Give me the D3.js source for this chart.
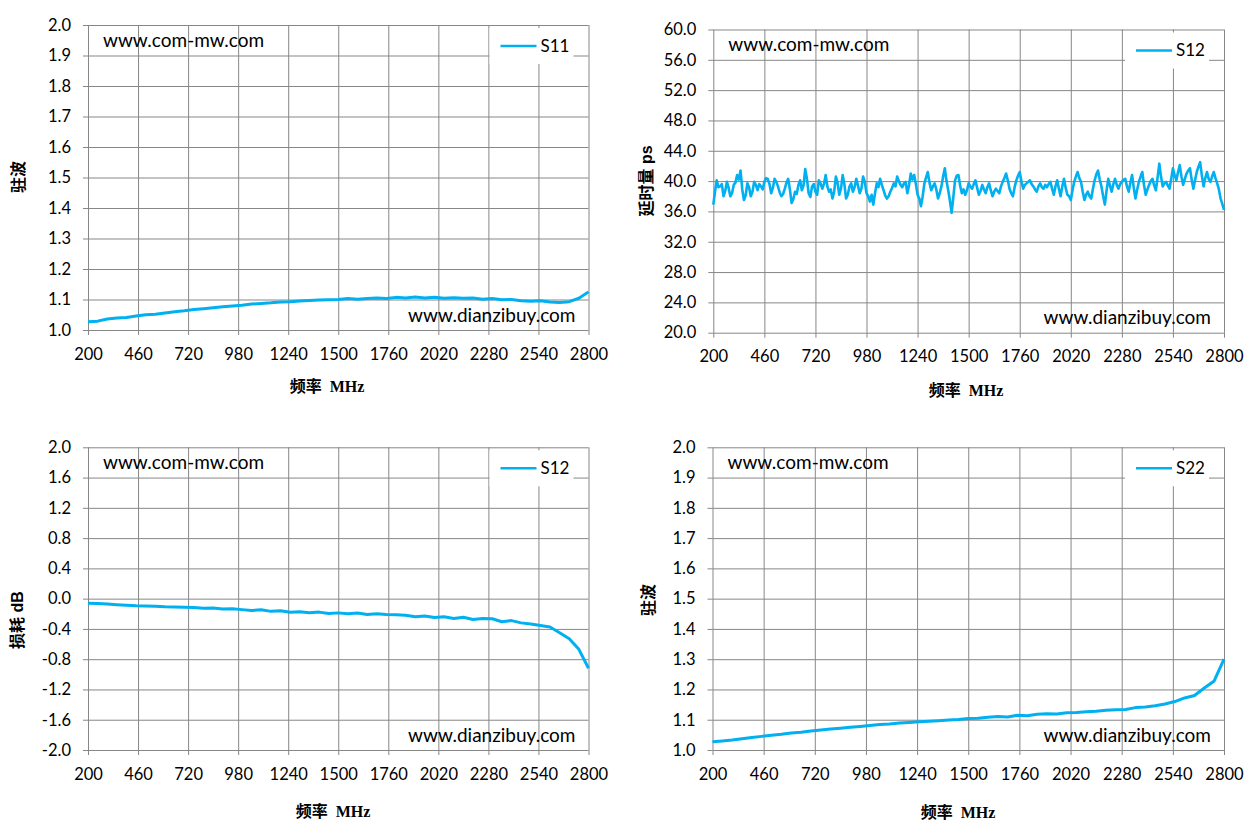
<!DOCTYPE html>
<html>
<head>
<meta charset="utf-8">
<script src="https://cdn.jsdelivr.net/npm/d3@7"></script>
<style>
body { margin: 0; background: #fff; }
svg text { font-family: Lato, "Noto Sans", sans-serif; fill: #000; }
.grid line { stroke: #878787; stroke-width: 1; }
.grid path { display: none; }
.axis path { display: none; }
.axis line { stroke: #878787; }
.axis text { font-size: 16.5px; }
.ytitle { font-family: "Liberation Sans", "Noto Sans CJK SC", sans-serif !important; font-weight: bold; font-size: 16px; }
.xtitle { font-family: "Liberation Serif", "Noto Sans CJK SC", serif !important; font-weight: bold; font-size: 16px; white-space: pre; }
.legend { font-size: 17px; }
.mark { font-size: 19px; }
</style>
</head>
<body>
<svg id="chart" width="1252" height="830"></svg>
<script>
// tick labels
var xTicks = [200, 460, 720, 980, 1240, 1500, 1760, 2020, 2280, 2540, 2800];
var vswrTicks = [1.0, 1.1, 1.2, 1.3, 1.4, 1.5, 1.6, 1.7, 1.8, 1.9, 2.0];
var delayTicks = [20.0, 24.0, 28.0, 32.0, 36.0, 40.0, 44.0, 48.0, 52.0, 56.0, 60.0];
var lossTicks = [-2.0, -1.6, -1.2, -0.8, -0.4, 0.0, 0.4, 0.8, 1.2, 1.6, 2.0];

// smooth traces, one reading every 50 MHz from 200 to 2800
var freq50 = d3.range(200, 2801, 50);

var s11Vswr = [1.027, 1.029, 1.036, 1.039, 1.041, 1.046, 1.050, 1.052, 1.056, 1.060,
  1.063, 1.067, 1.070, 1.073, 1.076, 1.079, 1.081, 1.085, 1.087, 1.089,
  1.092, 1.093, 1.095, 1.097, 1.098, 1.099, 1.100, 1.103, 1.101, 1.103,
  1.105, 1.103, 1.107, 1.105, 1.108, 1.105, 1.107, 1.104, 1.106, 1.104,
  1.105, 1.101, 1.103, 1.099, 1.100, 1.096, 1.094, 1.096, 1.092, 1.090,
  1.093, 1.104, 1.125];

var s12Loss = [-0.060, -0.065, -0.070, -0.080, -0.088, -0.095, -0.098, -0.102, -0.108, -0.110,
  -0.115, -0.118, -0.128, -0.125, -0.138, -0.135, -0.145, -0.155, -0.148, -0.168,
  -0.160, -0.180, -0.172, -0.185, -0.178, -0.195, -0.188, -0.200, -0.190, -0.208,
  -0.200, -0.208, -0.212, -0.220, -0.240, -0.228, -0.250, -0.240, -0.262, -0.245,
  -0.275, -0.262, -0.265, -0.305, -0.290, -0.320, -0.335, -0.355, -0.375, -0.450,
  -0.530, -0.670, -0.920];

var s22Vswr = [1.027, 1.030, 1.033, 1.037, 1.041, 1.045, 1.049, 1.052, 1.056, 1.059,
  1.063, 1.066, 1.069, 1.072, 1.075, 1.078, 1.081, 1.084, 1.086, 1.089,
  1.091, 1.093, 1.095, 1.097, 1.099, 1.101, 1.104, 1.105, 1.108, 1.111,
  1.109, 1.115, 1.113, 1.118, 1.120, 1.119, 1.123, 1.124, 1.126, 1.128,
  1.131, 1.133, 1.134, 1.140, 1.142, 1.146, 1.152, 1.160, 1.172, 1.180,
  1.205, 1.228, 1.300];

// group delay, 301 readings evenly spread over 200..2800 MHz
var freqDelay = d3.range(301).map(function(i) { return 200 + i * 2600 / 300; });

var s12Delay = [
  36.9, 38.6, 40.1, 39.2, 39.3, 39.6, 38.0, 38.7, 39.9, 39.1,
  38.0, 38.4, 39.5, 39.8, 40.8, 40.2, 41.4, 38.9, 37.5, 38.1,
  39.7, 39.2, 38.0, 38.6, 39.9, 39.5, 38.8, 39.6, 39.3, 38.9,
  39.9, 40.4, 40.3, 39.6, 38.4, 39.1, 40.3, 39.9, 39.3, 38.5,
  38.0, 38.3, 39.0, 39.8, 40.3, 38.9, 37.1, 37.6, 38.6, 38.3,
  39.5, 40.1, 38.8, 39.4, 41.6, 40.3, 38.4, 37.9, 39.3, 39.6,
  38.6, 38.2, 40.1, 39.7, 39.0, 39.6, 40.8, 39.3, 38.6, 38.9,
  37.7, 38.6, 40.6, 39.8, 38.2, 39.0, 40.8, 39.6, 37.7, 38.2,
  39.3, 39.7, 38.6, 39.2, 40.3, 39.4, 38.4, 39.0, 40.6, 39.9,
  38.4, 38.0, 37.3, 38.2, 36.9, 38.4, 39.7, 39.2, 40.3, 39.5,
  38.8, 38.1, 37.7, 38.0, 38.6, 39.1, 39.7, 39.3, 40.6, 40.0,
  39.5, 39.2, 39.7, 39.9, 38.4, 39.5, 41.0, 40.2, 40.8, 39.6,
  38.2, 37.7, 36.7, 38.0, 39.7, 40.5, 41.2, 39.8, 38.8, 39.3,
  39.7, 38.9, 37.7, 38.4, 39.3, 40.6, 41.7, 40.0, 38.8, 37.4,
  35.8, 37.9, 40.1, 40.7, 40.8, 39.4, 38.4, 38.9, 38.2, 38.8,
  39.7, 39.3, 39.0, 39.6, 40.1, 39.1, 38.2, 38.7, 39.5, 38.9,
  38.4, 39.2, 39.7, 38.8, 38.0, 38.6, 39.0, 38.7, 38.4, 39.3,
  39.9, 40.4, 41.0, 40.1, 39.0, 38.4, 38.0, 39.2, 40.1, 40.7,
  41.2, 40.0, 39.0, 39.5, 39.7, 39.9, 40.1, 39.6, 39.3, 38.9,
  38.6, 39.3, 39.7, 39.2, 39.0, 39.5, 39.2, 39.6, 39.9, 39.0,
  38.2, 39.3, 40.1, 39.0, 38.0, 39.3, 40.3, 39.1, 38.2, 38.0,
  37.5, 38.8, 39.9, 40.6, 41.2, 40.4, 39.9, 38.6, 37.5, 38.2,
  38.6, 38.0, 37.7, 39.0, 40.1, 40.9, 41.4, 40.2, 39.3, 38.0,
  36.9, 38.7, 40.3, 39.4, 38.6, 39.6, 40.3, 39.5, 39.0, 39.6,
  39.9, 40.2, 40.3, 39.3, 38.6, 39.8, 40.8, 39.1, 37.7, 38.9,
  39.9, 40.6, 41.2, 39.5, 38.2, 38.9, 39.5, 40.0, 40.3, 39.4,
  38.8, 40.5, 42.3, 40.6, 39.3, 39.7, 39.9, 39.4, 39.0, 40.3,
  41.7, 40.8, 40.1, 41.2, 42.1, 40.6, 39.5, 40.3, 41.0, 41.4,
  41.7, 40.2, 39.0, 40.1, 41.2, 41.9, 42.5, 40.7, 39.3, 40.4,
  41.2, 40.3, 39.9, 40.6, 41.2, 40.4, 39.7, 38.9, 37.7, 37.0,
  36.2];

var lineColor = "#00b0f0";

var panels = [
  { left: 88, right: 588.5, top: 25, bottom: 330, yTicks: vswrTicks, freq: freq50, values: s11Vswr,
    name: "S11", yTitle: "驻波", yTitleX: 18, yTitleY: 177, xTitleX: 327, xTitleY: 386, lw: 3 },
  { left: 713.3, right: 1224, top: 29.5, bottom: 332.7, yTicks: delayTicks, freq: freqDelay, values: s12Delay,
    name: "S12", yTitle: "延时量 ps", yTitleX: 646, yTitleY: 181, xTitleX: 966, xTitleY: 390, lw: 2.6 },
  { left: 88, right: 588.5, top: 447.3, bottom: 750, yTicks: lossTicks, freq: freq50, values: s12Loss,
    name: "S12", yTitle: "损耗 dB", yTitleX: 17, yTitleY: 620, xTitleX: 333, xTitleY: 811, lw: 3 },
  { left: 712.5, right: 1224, top: 447.3, bottom: 750, yTicks: vswrTicks, freq: freq50, values: s22Vswr,
    name: "S22", yTitle: "驻波", yTitleX: 648, yTitleY: 600, xTitleX: 958, xTitleY: 812, lw: 3 }
];

var svg = d3.select("#chart");

panels.forEach(function(p) {
    var w = p.right - p.left, h = p.bottom - p.top;

    var x = d3.scaleLinear().domain([200, 2800]).range([0, w]);
    var y = d3.scaleLinear().domain(d3.extent(p.yTicks)).range([h, 0]);

    var g = svg.append("g")
        .attr("transform", "translate(" + p.left + "," + p.top + ")");

    // gridlines
    g.append("g").attr("class", "grid")
        .call(d3.axisLeft(y).tickValues(p.yTicks).tickSize(-w).tickFormat(""));
    g.append("g").attr("class", "grid")
        .attr("transform", "translate(0," + h + ")")
        .call(d3.axisBottom(x).tickValues(xTicks).tickSize(-h).tickFormat(""));

    // axes with the short outside ticks
    g.append("g").attr("class", "axis")
        .call(d3.axisLeft(y).tickValues(p.yTicks).tickSize(5).tickPadding(12)
            .tickFormat(function(d) { return d.toFixed(1); }));
    g.append("g").attr("class", "axis")
        .attr("transform", "translate(0," + h + ")")
        .call(d3.axisBottom(x).tickValues(xTicks).tickSize(5).tickPadding(13)
            .tickFormat(d3.format("d")));

    // legend box covers the grid
    var lg = g.append("g").attr("transform", "translate(" + (w - 99) + ",3)");
    lg.append("rect").attr("width", 84).attr("height", 36).attr("fill", "#fff");

    // trace
    var line = d3.line()
        .x(function(d, i) { return x(p.freq[i]); })
        .y(function(d) { return y(d); });
    g.append("path")
        .datum(p.values)
        .attr("fill", "none")
        .attr("stroke", lineColor)
        .attr("stroke-width", p.lw)
        .attr("stroke-linejoin", "round")
        .attr("d", line);

    lg.append("line")
        .attr("x1", 11).attr("x2", 47).attr("y1", 18).attr("y2", 18)
        .attr("stroke", lineColor).attr("stroke-width", 2.5);
    lg.append("text")
        .attr("class", "legend")
        .attr("x", 51).attr("y", 18).attr("dy", "0.35em")
        .text(p.name);

    // site marks
    g.append("text").attr("class", "mark")
        .attr("x", 15).attr("y", 15).attr("dy", "0.35em")
        .text("www.com-mw.com");
    g.append("text").attr("class", "mark")
        .attr("x", w - 13).attr("y", h - 15).attr("dy", "0.35em")
        .attr("text-anchor", "end")
        .text("www.dianzibuy.com");

    // axis titles
    svg.append("text").attr("class", "xtitle")
        .attr("x", p.xTitleX).attr("y", p.xTitleY).attr("dy", "0.35em")
        .attr("text-anchor", "middle")
        .text("频率  MHz");
    svg.append("text").attr("class", "ytitle")
        .attr("transform", "translate(" + p.yTitleX + "," + p.yTitleY + ") rotate(-90)")
        .attr("dy", "0.35em")
        .attr("text-anchor", "middle")
        .text(p.yTitle);
});
</script>
</body>
</html>
